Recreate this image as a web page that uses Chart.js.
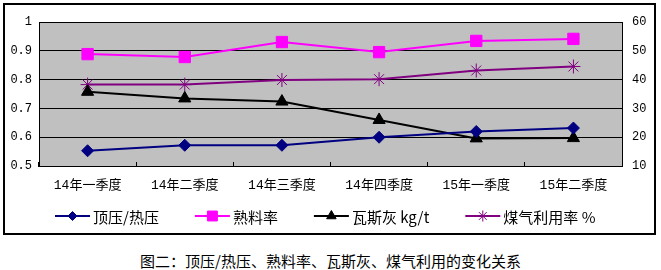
<!DOCTYPE html>
<html lang="zh-CN">
<head>
  <meta charset="UTF-8" />
  <title>图二</title>
  <script src="https://cdn.jsdelivr.net/npm/chart.js"></script>
  <style>
    body {
      margin: 0;
      width: 661px;
      height: 270px;
      position: relative;
      overflow: hidden;
      background: #fff;
    }

    .moldura {
      position: absolute;
      left: 3px;
      top: 3px;
      width: 649px;
      height: 228px;
      border: 2px solid #000;
    }

    .titulo {
      position: absolute;
      left: 0;
      top: 251px;
      width: 661px;
      text-align: center;
      font: 15px "Noto Sans CJK SC", sans-serif;
      line-height: 20px;
      color: #000;
    }
  </style>
</head>
<body>
  <div class="moldura">
    <canvas id="grafico" width="649" height="228"></canvas>
  </div>
  <div class="titulo">图二：顶压/热压、熟料率、瓦斯灰、煤气利用的变化关系</div>

  <script>
    const trimestres = ['14年一季度', '14年二季度', '14年三季度', '14年四季度', '15年一季度', '15年二季度'];
    const nomesSeries = ['顶压/热压', '熟料率', '瓦斯灰 kg/t', '煤气利用率 %'];
    const dingYa = [0.553, 0.572, 0.572, 0.600, 0.620, 0.632];
    const shuLiao = [48.9, 47.9, 53.1, 49.6, 53.5, 54.2];
    const waSiHui = [35.8, 33.5, 32.4, 26.0, 19.6, 19.7];
    const meiQi = [38.3, 38.3, 39.9, 40.2, 43.2, 44.6];
    const ticksEsq = [0.5, 0.6, 0.7, 0.8, 0.9, 1];
    const ticksDir = [10, 20, 30, 40, 50, 60];

    const fonteMono = '"Liberation Mono", "Noto Sans CJK SC", monospace';

    // legenda desenhada à mão: linha + marcador + texto
    const legendaLinha = {
      id: 'legendaLinha',
      afterDraw(chart) {
        const ctx = chart.ctx;
        const y = 211;
        let x = 50;
        ctx.save();
        ctx.font = '15px "Noto Sans CJK SC", sans-serif';
        ctx.textBaseline = 'middle';
        chart.data.datasets.forEach(ds => {
          ctx.strokeStyle = ds.borderColor;
          ctx.lineWidth = 2;
          ctx.beginPath();
          ctx.moveTo(x, y);
          ctx.lineTo(x + 35, y);
          ctx.stroke();
          ctx.fillStyle = ds.pointBackgroundColor;
          ctx.strokeStyle = ds.pointBorderColor;
          ctx.lineWidth = 1;
          Chart.helpers.drawPoint(ctx, {
            pointStyle: ds.pointStyle,
            radius: ds.legendRadius,
            borderWidth: 1,
            rotation: 0
          }, x + 17.5, y);
          ctx.fillStyle = '#000';
          ctx.fillText(ds.label, x + 38, y + 1);
          x += 38 + ctx.measureText(ds.label).width + 36;
        });
        ctx.restore();
      }
    };

    const ctx = document.getElementById('grafico').getContext('2d');
    new Chart(ctx, {
      type: 'line',
      data: {
        labels: trimestres,
        datasets: [
          {
            label: nomesSeries[0],
            data: dingYa,
            yAxisID: 'y',
            borderColor: '#000080',
            pointBackgroundColor: '#000080',
            pointBorderColor: '#000080',
            pointStyle: 'rectRot',
            pointRadius: 6,
            legendRadius: 4.5
          },
          {
            label: nomesSeries[1],
            data: shuLiao,
            yAxisID: 'y1',
            borderColor: '#FF00FF',
            pointBackgroundColor: '#FF00FF',
            pointBorderColor: '#FF00FF',
            pointStyle: 'rect',
            pointRadius: 8,
            legendRadius: 7
          },
          {
            label: nomesSeries[2],
            data: waSiHui,
            yAxisID: 'y1',
            borderColor: '#000000',
            pointBackgroundColor: '#000000',
            pointBorderColor: '#000000',
            pointStyle: 'triangle',
            pointRadius: 7,
            legendRadius: 5.5
          },
          {
            label: nomesSeries[3],
            data: meiQi,
            yAxisID: 'y1',
            borderColor: '#800080',
            pointBackgroundColor: '#800080',
            pointBorderColor: '#800080',
            pointStyle: 'star',
            pointRadius: 7,
            legendRadius: 5.5
          }
        ]
      },
      options: {
        responsive: false,
        animation: false,
        layout: {
          padding: { left: 0, right: 0, top: 9, bottom: 37 }
        },
        elements: {
          line: { borderWidth: 2, tension: 0 },
          point: { borderWidth: 1, hoverRadius: 7 }
        },
        scales: {
          x: {
            offset: true,
            afterFit: s => { s.height = 30; },
            grid: {
              offset: true,
              drawOnChartArea: false,
              tickLength: -4,
              color: '#000'
            },
            border: { color: '#000', width: 1 },
            ticks: {
              padding: 16,
              color: '#000',
              font: { family: fonteMono, size: 13 },
              maxRotation: 0
            }
          },
          y: {
            position: 'left',
            min: ticksEsq[0],
            max: ticksEsq[ticksEsq.length - 1],
            afterFit: s => { s.width = 34; },
            afterBuildTicks: s => { s.ticks = ticksEsq.map(v => ({ value: v })); },
            grid: { color: '#000', lineWidth: 1, drawTicks: false },
            border: { color: '#000', width: 1 },
            ticks: {
              padding: 7,
              color: '#000',
              font: { family: fonteMono, size: 12 },
              callback: v => v === 1 ? '1' : v.toFixed(1)
            }
          },
          y1: {
            position: 'right',
            min: ticksDir[0],
            max: ticksDir[ticksDir.length - 1],
            afterFit: s => { s.width = 32; },
            afterBuildTicks: s => { s.ticks = ticksDir.map(v => ({ value: v })); },
            grid: { drawOnChartArea: false, drawTicks: false },
            border: { color: '#000', width: 1 },
            ticks: {
              padding: 10,
              color: '#000',
              font: { family: fonteMono, size: 12 }
            }
          }
        },
        plugins: {
          legend: { display: false },
          tooltip: { enabled: false }
        }
      },
      plugins: [
        {
          id: 'fundoCinza',
          beforeDraw(chart) {
            const a = chart.chartArea;
            chart.ctx.save();
            chart.ctx.fillStyle = '#C0C0C0';
            chart.ctx.fillRect(a.left, a.top, a.right - a.left, a.bottom - a.top);
            chart.ctx.restore();
          }
        },
        legendaLinha
      ]
    });
  </script>
</body>
</html>
